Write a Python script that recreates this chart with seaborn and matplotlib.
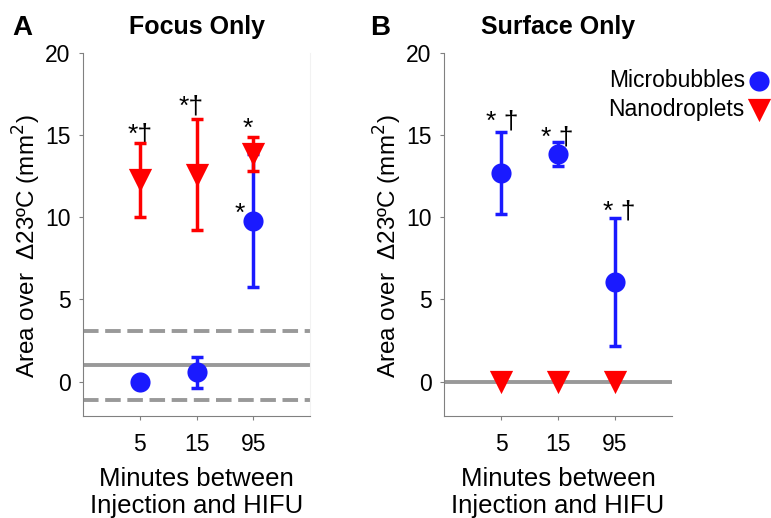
import matplotlib
matplotlib.use("Agg")
import matplotlib.pyplot as plt
import pandas as pd
import seaborn as sns

# Data
minutes = ["5", "15", "95"]
xpos = [1, 2, 3]

focus_mb_mean = [0.0, 0.55, 9.8]
focus_mb_err = [0.0, 0.95, 4.05]
focus_nd_mean = [12.25, 12.6, 13.85]
focus_nd_err = [2.25, 3.4, 1.05]
focus_thresh = 1.0
focus_thresh_sd = 2.1

surface_mb_mean = [12.7, 13.85, 6.05]
surface_mb_err = [2.5, 0.75, 3.9]
surface_nd_mean = [0.0, 0.0, 0.0]
surface_thresh = 0.0

focus_marks = [(1.0, 14.6, "*\u2020", "center"), (1.9, 16.3, "*\u2020", "center"),
               (2.9, 14.95, "*", "center"), (2.86, 9.8, "*", "right")]
surface_marks = [(1.02, 15.4, "* \u2020", "center"), (1.99, 14.45, "* \u2020", "center"),
                 (3.07, 9.9, "* \u2020", "center")]

BLUE = "#1a1aff"
RED = "#ff0000"
GRAY = "#999999"

sns.set_style("ticks")
plt.rcParams["font.family"] = ["Liberation Sans", "DejaVu Sans"]
plt.rcParams["text.color"] = "black"
plt.rcParams["axes.labelcolor"] = "black"
plt.rcParams["xtick.labelcolor"] = "black"
plt.rcParams["ytick.labelcolor"] = "black"

fig = plt.figure(figsize=(7.71, 5.18), dpi=100)
ax1 = fig.add_axes([0.1077, 0.1969, 0.2944, 0.7008])
ax2 = fig.add_axes([0.5759, 0.1969, 0.2957, 0.7008])


def draw_series(ax, mean, err, color, marker, size, label, z):
    df = pd.DataFrame({"x": xpos, "y": mean})
    if err is not None and max(err) > 0:
        ax.errorbar(df["x"], df["y"], yerr=err, fmt="none", ecolor=color,
                    elinewidth=2.5, capsize=4, capthick=2.5, zorder=z)
    sns.scatterplot(data=df, x="x", y="y", ax=ax, color=color, marker=marker,
                    s=size, linewidth=0, label=label, zorder=z + 0.5, legend=False)


def style_axes(ax, title, letter, letter_x):
    ax.set_xlim(0, 4)
    ax.set_ylim(-2.1, 20)
    ax.set_xticks(xpos)
    ax.set_xticklabels(minutes)
    ax.set_yticks([0, 5, 10, 15, 20])
    ax.tick_params(labelsize=16.5, length=3, width=0.8, color="#808080", pad=6)
    ax.tick_params(axis="x", pad=9)
    ax.set_xlabel("Minutes between\nInjection and HIFU", fontsize=18.5,
                  linespacing=1.15, labelpad=8)
    ax.set_ylabel("Area over  \u039423\u00baC (mm$^2$)", fontsize=17.5)
    ax.yaxis.set_label_coords(-0.176, 0.468)
    ax.set_title(title, fontsize=18, fontweight="bold", pad=14)
    for s in ["left", "bottom"]:
        ax.spines[s].set_color("#808080")
        ax.spines[s].set_linewidth(0.8)
    ax.spines["top"].set_visible(False)
    fig.text(letter_x, 0.945, letter, fontsize=20, fontweight="bold",
             ha="left", va="center")


dash = (0, (4, 1.7))

# Panel A: focus only
ax1.axhline(focus_thresh, color=GRAY, lw=2.8, zorder=1)
ax1.axhline(focus_thresh + focus_thresh_sd, color=GRAY, lw=2.8, ls=dash, zorder=1)
ax1.axhline(focus_thresh - focus_thresh_sd, color=GRAY, lw=2.8, ls=dash, zorder=1)
draw_series(ax1, focus_mb_mean, focus_mb_err, BLUE, "o", 210, "Microbubbles", 2)
draw_series(ax1, focus_nd_mean, focus_nd_err, RED, "v", 280, "Nanodroplets", 4)
for x, y, t, ha in focus_marks:
    ax1.text(x, y, t, fontsize=19, ha=ha, va="baseline")
style_axes(ax1, "Focus Only", "A", 0.016)
ax1.spines["right"].set_color("#f2f2f2")
ax1.spines["right"].set_linewidth(0.8)

# Panel B: surface only
ax2.axhline(surface_thresh, color=GRAY, lw=2.8, zorder=1)
draw_series(ax2, surface_mb_mean, surface_mb_err, BLUE, "o", 210, "Microbubbles", 2)
draw_series(ax2, surface_nd_mean, None, RED, "v", 280, "Nanodroplets", 4)
for x, y, t, ha in surface_marks:
    ax2.text(x, y, t, fontsize=19, ha=ha, va="baseline")
style_axes(ax2, "Surface Only", "B", 0.480)
ax2.spines["right"].set_visible(False)

handles, labels = ax2.get_legend_handles_labels()
ax2.legend(handles, labels, loc="upper right", bbox_to_anchor=(1.43, 0.955),
           frameon=False, markerfirst=False, fontsize=16.5, handletextpad=0.1,
           borderpad=0, labelspacing=0.25, handlelength=1.0, borderaxespad=0)

fig.savefig("out.png", dpi=100)
